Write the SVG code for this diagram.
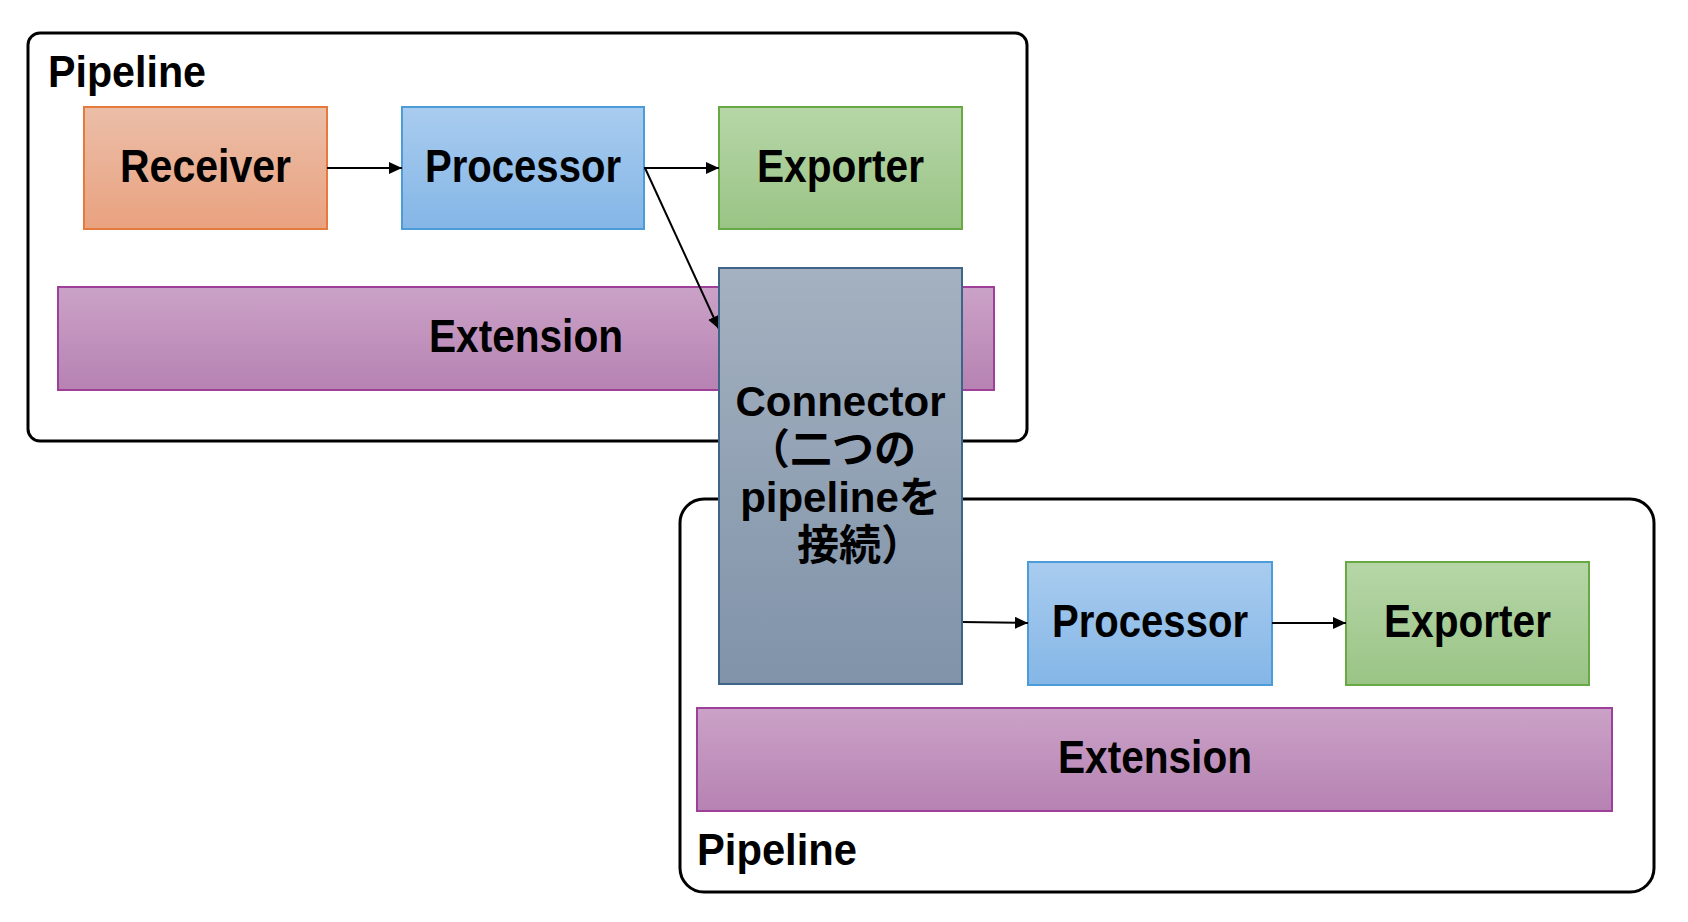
<svg xmlns="http://www.w3.org/2000/svg" width="1688" height="922" viewBox="0 0 1688 922">
  <style>
    .frame { fill: #ffffff; stroke: #000000; stroke-width: 3; }
    .box { stroke-width: 2; }
    .lbl { font-family: "Liberation Sans", Arial, sans-serif; font-weight: bold; font-size: 46px; fill: #000000; }
    .title { font-family: "Liberation Sans", Arial, sans-serif; font-weight: bold; font-size: 44px; fill: #000000; }
    .conn { font-family: "Liberation Sans", "Noto Sans CJK JP", sans-serif; font-weight: bold; font-size: 42px; fill: #000000; text-anchor: middle; }
    .mid { text-anchor: middle; }
    .edge { fill: none; stroke: #000000; stroke-width: 2; marker-end: url(#arrow); }
  </style>
  <defs>
    <linearGradient id="gRecv" x1="0" y1="0" x2="0" y2="1">
      <stop offset="0" stop-color="#EBBEA8"/>
      <stop offset="1" stop-color="#E9A280"/>
    </linearGradient>
    <linearGradient id="gProc" x1="0" y1="0" x2="0" y2="1">
      <stop offset="0" stop-color="#A9CCEF"/>
      <stop offset="1" stop-color="#84B6E6"/>
    </linearGradient>
    <linearGradient id="gExp" x1="0" y1="0" x2="0" y2="1">
      <stop offset="0" stop-color="#B6D6A7"/>
      <stop offset="1" stop-color="#9AC486"/>
    </linearGradient>
    <linearGradient id="gExt" x1="0" y1="0" x2="0" y2="1">
      <stop offset="0" stop-color="#CBA2C7"/>
      <stop offset="1" stop-color="#B682B2"/>
    </linearGradient>
    <linearGradient id="gConn" x1="0" y1="0" x2="0" y2="1">
      <stop offset="0" stop-color="#A4B1C0"/>
      <stop offset="1" stop-color="#8093A9"/>
    </linearGradient>
    <marker id="arrow" markerUnits="userSpaceOnUse" markerWidth="14" markerHeight="13" refX="13" refY="6" orient="auto">
      <path d="M0,0 L13,6 L0,12 Z" fill="#000000"/>
    </marker>
  </defs>

  <g id="pipeline-top">
    <rect class="frame" x="28" y="33" width="999" height="408" rx="12" ry="12"/>
    <text class="title" x="48" y="87" textLength="158" lengthAdjust="spacingAndGlyphs">Pipeline</text>
  </g>
  <g id="pipeline-bottom">
    <rect class="frame" x="680" y="499" width="974" height="393" rx="24" ry="24"/>
    <text class="title" x="697" y="865" textLength="160" lengthAdjust="spacingAndGlyphs">Pipeline</text>
  </g>

  <g id="receiver">
    <rect class="box" x="84" y="107" width="243" height="122" fill="url(#gRecv)" stroke="#E57A3C"/>
    <text class="lbl mid" x="205.5" y="182" textLength="171" lengthAdjust="spacingAndGlyphs">Receiver</text>
  </g>
  <g id="processor-top">
    <rect class="box" x="402" y="107" width="242" height="122" fill="url(#gProc)" stroke="#4C9CD9"/>
    <text class="lbl mid" x="523" y="182" textLength="196" lengthAdjust="spacingAndGlyphs">Processor</text>
  </g>
  <g id="exporter-top">
    <rect class="box" x="719" y="107" width="243" height="122" fill="url(#gExp)" stroke="#69A944"/>
    <text class="lbl mid" x="840.5" y="182" textLength="167" lengthAdjust="spacingAndGlyphs">Exporter</text>
  </g>
  <g id="extension-top">
    <rect class="box" x="58" y="287" width="936" height="103" fill="url(#gExt)" stroke="#9E3F99"/>
    <text class="lbl mid" x="526" y="352" textLength="194" lengthAdjust="spacingAndGlyphs">Extension</text>
  </g>

  <g id="processor-bottom">
    <rect class="box" x="1028" y="562" width="244" height="123" fill="url(#gProc)" stroke="#4C9CD9"/>
    <text class="lbl mid" x="1150" y="637" textLength="196" lengthAdjust="spacingAndGlyphs">Processor</text>
  </g>
  <g id="exporter-bottom">
    <rect class="box" x="1346" y="562" width="243" height="123" fill="url(#gExp)" stroke="#69A944"/>
    <text class="lbl mid" x="1467.5" y="637" textLength="167" lengthAdjust="spacingAndGlyphs">Exporter</text>
  </g>
  <g id="extension-bottom">
    <rect class="box" x="697" y="708" width="915" height="103" fill="url(#gExt)" stroke="#9E3F99"/>
    <text class="lbl mid" x="1155" y="773" textLength="194" lengthAdjust="spacingAndGlyphs">Extension</text>
  </g>

  <g id="connectors">
    <line class="edge" x1="327" y1="168" x2="402" y2="168"/>
    <line class="edge" x1="644" y1="168" x2="719" y2="168"/>
    <line class="edge" x1="645" y1="168" x2="719" y2="329"/>
    <line class="edge" x1="962" y1="622" x2="1028" y2="623"/>
    <line class="edge" x1="1272" y1="623" x2="1346" y2="623"/>
  </g>

  <g id="connector">
    <rect class="box" x="719" y="268" width="243" height="416" fill="url(#gConn)" stroke="#3E6487"/>
    <text class="conn" x="840.5" y="416">Connector</text>
    <text class="conn" x="832" y="464">（二つの</text>
    <text class="conn" x="840.5" y="512">pipelineを</text>
    <text class="conn" x="860" y="560">接続）</text>
  </g>
</svg>
